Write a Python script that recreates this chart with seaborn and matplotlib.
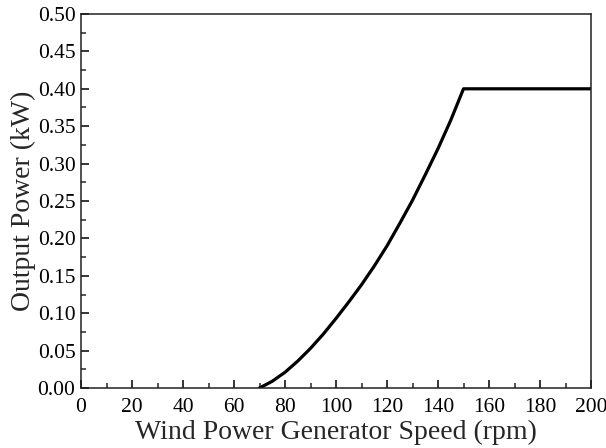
import matplotlib
matplotlib.use("Agg")
import matplotlib.pyplot as plt
import seaborn as sns
import pandas as pd
from matplotlib.ticker import MultipleLocator, FormatStrFormatter

speed_rpm = [70, 75, 80, 85, 90, 95, 100, 105, 110, 115, 120, 125, 130, 135, 140, 145, 150, 160, 170, 180, 190, 200]
power_kw = [0.0, 0.009, 0.021, 0.036, 0.053, 0.072, 0.093, 0.115, 0.138, 0.163, 0.190, 0.220, 0.251, 0.285, 0.320, 0.358, 0.40, 0.40, 0.40, 0.40, 0.40, 0.40]

df = pd.DataFrame({"speed": speed_rpm, "power": power_kw})

sns.set_style("ticks")
plt.rcParams["font.family"] = ["Liberation Serif", "DejaVu Serif"]

fig = plt.figure(figsize=(6.06, 4.48), dpi=100)
ax = fig.add_axes([81/606, 60/448, 510/606, 374/448])
sns.lineplot(data=df, x="speed", y="power", ax=ax, color="black", linewidth=2.3)

ax.set_xlim(0, 200)
ax.set_ylim(0, 0.5)
ax.xaxis.set_major_locator(MultipleLocator(20))
ax.xaxis.set_minor_locator(MultipleLocator(10))
ax.yaxis.set_major_locator(MultipleLocator(0.05))
ax.yaxis.set_minor_locator(MultipleLocator(0.025))
ax.yaxis.set_major_formatter(FormatStrFormatter("%.2f"))
ax.tick_params(which="major", direction="in", length=6, width=1.1, labelsize=15.5, colors="black", pad=4)
ax.tick_params(axis="x", which="major", pad=7)
ax.tick_params(which="minor", direction="in", length=3.5, width=1.1)
for s in ax.spines.values():
    s.set_visible(True)
    s.set_linewidth(1.1)
    s.set_color("#222222")
ax.set_xlabel("Wind Power Generator Speed (rpm)", fontsize=20, labelpad=2)
ax.set_ylabel("Output Power (kW)", fontsize=20, labelpad=1)

fig.savefig("out.png", dpi=100)
